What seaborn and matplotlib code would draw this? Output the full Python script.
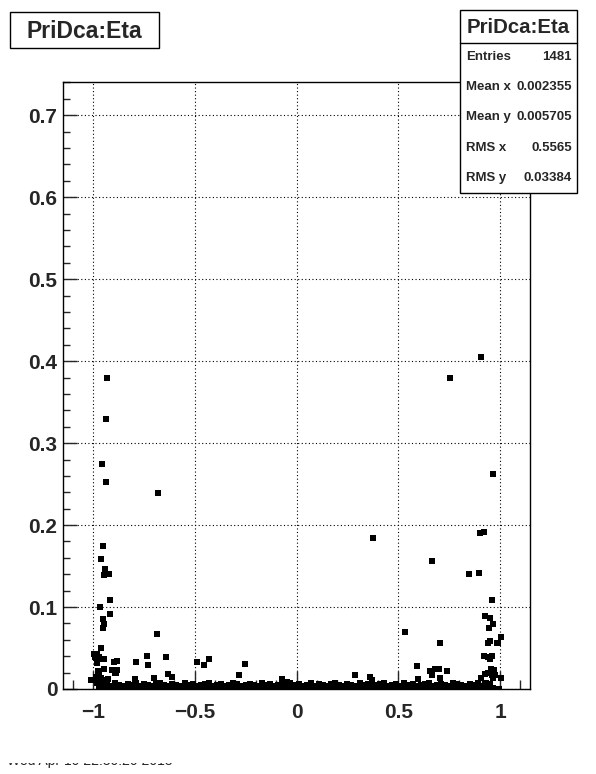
import numpy as np
import pandas as pd
import matplotlib
matplotlib.use("Agg")
import matplotlib.pyplot as plt
import seaborn as sns
from matplotlib.patches import Rectangle
from matplotlib.ticker import MultipleLocator
from matplotlib.transforms import Bbox

# ==========================================================
# Data
# ==========================================================

# isolated points above the dense band
out_x = [-0.929, -0.936, -0.956, -0.936, -0.681, -0.951, -0.961, -0.941, -0.946, -0.921,
         -0.916, -0.966, -0.916, -0.951, -0.946, -0.951, -0.686, -0.961, -0.995, -0.980,
         -0.990, -0.971, -0.946, -0.951, -0.735, -0.641, -0.980, -0.897, -0.882, -0.789,
         -0.730, -0.946, -0.907, -0.882, -0.975, -0.971, -0.887, -0.892, -0.631, -0.612,
         -0.985, -0.961, -0.926, -0.936, -1.010, -0.794, -0.700, -0.971, -0.966, -0.980,
         -0.961, -0.971, -0.951, -0.490, -0.455, -0.430, -0.253, -0.281, -0.071, -0.047,
         0.288, 0.361, 0.371, 0.374,
         0.907, 0.754, 0.966, 0.902, 0.921, 0.666, 0.848, 0.897, 0.961, 0.926,
         0.951, 0.946, 0.966, 0.533, 1.005, 0.951, 0.941, 0.985, 0.990, 0.705,
         0.921, 0.941, 0.951, 0.961, 0.592, 0.656, 0.681, 0.700, 0.666, 0.740,
         0.956, 0.971, 0.941, 0.926, 0.961, 0.976, 1.005, 0.907, 0.705, 0.597,
         0.966, 0.926, 0.931, 0.951, 0.995, 0.966]
out_y = [0.379, 0.329, 0.274, 0.252, 0.239, 0.175, 0.159, 0.146, 0.139, 0.140,
         0.108, 0.100, 0.091, 0.085, 0.079, 0.074, 0.067, 0.050, 0.043, 0.043,
         0.039, 0.039, 0.037, 0.036, 0.040, 0.039, 0.032, 0.033, 0.034, 0.033,
         0.029, 0.025, 0.023, 0.023, 0.022, 0.019, 0.020, 0.019, 0.018, 0.015,
         0.015, 0.013, 0.012, 0.011, 0.011, 0.012, 0.013, 0.012, 0.008, 0.007,
         0.006, 0.003, 0.000, 0.033, 0.029, 0.036, 0.030, 0.017, 0.012, 0.009,
         0.017, 0.015, 0.011, 0.184,
         0.405, 0.380, 0.262, 0.190, 0.191, 0.156, 0.140, 0.141, 0.108, 0.089,
         0.087, 0.074, 0.079, 0.070, 0.064, 0.059, 0.056, 0.056, 0.056, 0.056,
         0.040, 0.039, 0.037, 0.040, 0.028, 0.022, 0.025, 0.025, 0.017, 0.022,
         0.025, 0.023, 0.020, 0.018, 0.017, 0.017, 0.013, 0.014, 0.014, 0.012,
         0.013, 0.007, 0.007, 0.003, 0.000, 0.001]

# dense band near zero: a lower row and an upper row, offset in x
band_x = [-0.96, -0.94, -0.92, -0.90, -0.88, -0.86, -0.84, -0.82, -0.80, -0.78,
          -0.76, -0.74, -0.72, -0.70, -0.68, -0.66, -0.64, -0.62, -0.60, -0.58,
          -0.56, -0.54, -0.52, -0.50, -0.48, -0.46, -0.44, -0.42, -0.40, -0.38,
          -0.36, -0.34, -0.32, -0.30, -0.28, -0.26, -0.24, -0.22, -0.20, -0.18,
          -0.16, -0.14, -0.12, -0.10, -0.08, -0.06, -0.04, -0.02, 0.00, 0.02,
          0.04, 0.06, 0.08, 0.10, 0.12, 0.14, 0.16, 0.18, 0.20, 0.22,
          0.24, 0.26, 0.28, 0.30, 0.32, 0.34, 0.36, 0.38, 0.40, 0.42,
          0.44, 0.46, 0.48, 0.50, 0.52, 0.54, 0.56, 0.58, 0.60, 0.62,
          0.64, 0.66, 0.68, 0.70, 0.72, 0.74, 0.76, 0.78, 0.80, 0.82,
          0.84, 0.86, 0.88, 0.90, 0.92, 0.94, 0.96]
band_x2 = [-0.95, -0.93, -0.91, -0.89, -0.87, -0.85, -0.83, -0.81, -0.79, -0.77,
           -0.75, -0.73, -0.71, -0.69, -0.67, -0.65, -0.63, -0.61, -0.59, -0.57,
           -0.55, -0.53, -0.51, -0.49, -0.47, -0.45, -0.43, -0.41, -0.39, -0.37,
           -0.35, -0.33, -0.31, -0.29, -0.27, -0.25, -0.23, -0.21, -0.19, -0.17,
           -0.15, -0.13, -0.11, -0.09, -0.07, -0.05, -0.03, -0.01, 0.01, 0.03,
           0.05, 0.07, 0.09, 0.11, 0.13, 0.15, 0.17, 0.19, 0.21, 0.23,
           0.25, 0.27, 0.29, 0.31, 0.33, 0.35, 0.37, 0.39, 0.41, 0.43,
           0.45, 0.47, 0.49, 0.51, 0.53, 0.55, 0.57, 0.59, 0.61, 0.63,
           0.65, 0.67, 0.69, 0.71, 0.73, 0.75, 0.77, 0.79, 0.81, 0.83,
           0.85, 0.87, 0.89, 0.91, 0.93, 0.95]
band_y_lo = [0.002, 0.001, 0.003, 0.002, 0.001, 0.002, 0.003, 0.001, 0.002, 0.002,
             0.001, 0.003, 0.002, 0.001, 0.002, 0.003, 0.002, 0.001, 0.002, 0.003,
             0.001, 0.002, 0.002, 0.003, 0.001, 0.002, 0.001, 0.003, 0.002, 0.002,
             0.003, 0.001, 0.002, 0.002, 0.001, 0.003, 0.002, 0.001, 0.002, 0.003,
             0.002, 0.001, 0.003, 0.002, 0.002, 0.001, 0.002, 0.003, 0.001, 0.002,
             0.002, 0.003, 0.001, 0.002, 0.001, 0.003, 0.002, 0.002, 0.001, 0.002,
             0.003, 0.002, 0.001, 0.002, 0.003, 0.001, 0.002, 0.002, 0.003, 0.001,
             0.002, 0.001, 0.003, 0.002, 0.002, 0.001, 0.002, 0.003, 0.002, 0.001,
             0.002, 0.003, 0.001, 0.002, 0.002, 0.003, 0.001, 0.002, 0.001, 0.002,
             0.003, 0.002, 0.001, 0.002, 0.002, 0.003, 0.001]
band_y_hi = [0.005, 0.006, 0.004, 0.007, 0.005, 0.004, 0.006, 0.005, 0.007, 0.004,
             0.006, 0.005, 0.004, 0.006, 0.007, 0.005, 0.004, 0.006, 0.005, 0.004,
             0.007, 0.005, 0.006, 0.004, 0.005, 0.006, 0.007, 0.004, 0.005, 0.006,
             0.004, 0.005, 0.007, 0.006, 0.004, 0.005, 0.006, 0.005, 0.004, 0.007,
             0.005, 0.006, 0.004, 0.005, 0.006, 0.004, 0.007, 0.005, 0.006, 0.004,
             0.005, 0.007, 0.004, 0.006, 0.005, 0.004, 0.006, 0.007, 0.005, 0.004,
             0.006, 0.005, 0.004, 0.007, 0.005, 0.006, 0.004, 0.005, 0.006, 0.007,
             0.004, 0.005, 0.006, 0.004, 0.007, 0.005, 0.006, 0.004, 0.005, 0.006,
             0.007, 0.004, 0.005, 0.006, 0.005, 0.004, 0.007, 0.006, 0.005, 0.004,
             0.006, 0.005, 0.007, 0.004, 0.005, 0.006]

stat_names = ["Entries", "Mean x", "Mean y", "RMS x", "RMS y"]
stat_values = ["1481", "0.002355", "0.005705", "0.5565", "0.03384"]
hist_title = "PriDca:Eta"
date_text = "Wed Apr 10 22:30:20 2013"

df = pd.DataFrame({
    "x": out_x + band_x + band_x2,
    "y": out_y + band_y_lo + band_y_hi,
})

# ==========================================================
# Plot
# ==========================================================

sns.set_style("white")
plt.rcParams['font.family'] = ['Liberation Sans', 'DejaVu Sans']

W, H = 596, 774
fig = plt.figure(figsize=(W / 100, H / 100), dpi=100)
ax = fig.add_axes([63 / W, 1 - 689 / H, (530 - 63) / W, (689 - 82) / H])

sns.scatterplot(data=df, x="x", y="y", ax=ax, marker="s", s=15,
                color="black", linewidth=0, legend=False)

ax.set_xlim(-1.147, 1.147)
ax.set_ylim(0, 0.7406)
ax.set_xlabel("")
ax.set_ylabel("")

ax.xaxis.set_minor_locator(MultipleLocator(0.1))
ax.yaxis.set_minor_locator(MultipleLocator(0.02))
ax.set_xticks([-1, -0.5, 0, 0.5, 1])
ax.set_xticklabels(["\u22121", "\u22120.5", "0", "0.5", "1"])
ax.set_yticks([0, 0.1, 0.2, 0.3, 0.4, 0.5, 0.6, 0.7])
ax.set_yticklabels(["0", "0.1", "0.2", "0.3", "0.4", "0.5", "0.6", "0.7"])

ax.tick_params(axis="x", which="major", direction="in", length=13, width=1,
               labelsize=15, pad=10, top=False, bottom=True)
ax.tick_params(axis="x", which="minor", direction="in", length=6.5, width=1,
               top=False, bottom=True)
ax.tick_params(axis="y", which="major", direction="in", length=10, width=1,
               labelsize=15, pad=4, left=True, right=False)
ax.tick_params(axis="y", which="minor", direction="in", length=5, width=1,
               left=True, right=False)
for lab in ax.get_xticklabels() + ax.get_yticklabels():
    lab.set_fontweight("bold")

ax.grid(True, which="major", color="black", linewidth=0.8,
        linestyle=(0, (1, 2.2)))
ax.set_axisbelow(True)
for sp in ax.spines.values():
    sp.set_visible(True)
    sp.set_color("black")
    sp.set_linewidth(1)

# title box (top left)
def px_rect(x0, y0, x1, y1):
    return Rectangle((x0 / W, 1 - y1 / H), (x1 - x0) / W, (y1 - y0) / H,
                     transform=fig.transFigure, facecolor="white",
                     edgecolor="black", linewidth=1, zorder=5)

fig.patches.append(px_rect(10, 12, 159, 48))
fig.text(84.5 / W, 1 - 31 / H, hist_title, ha="center", va="center",
         fontsize=16.5, fontweight="bold", zorder=6)

# stats box (top right)
fig.patches.append(px_rect(460, 10, 577, 193))
fig.add_artist(plt.Line2D([460 / W, 577 / W], [1 - 43 / H, 1 - 43 / H],
                          transform=fig.transFigure, color="black",
                          linewidth=1, zorder=6))
fig.text(518.5 / W, 1 - 27.5 / H, hist_title, ha="center", va="center",
         fontsize=14.7, fontweight="bold", zorder=6)
row_y = [57, 87, 117, 148, 178]
for name, val, ry in zip(stat_names, stat_values, row_y):
    fig.text(466 / W, 1 - ry / H, name, ha="left", va="center",
             fontsize=9.5, fontweight="bold", zorder=6)
    fig.text(572 / W, 1 - ry / H, val, ha="right", va="center",
             fontsize=9.5, fontweight="bold", zorder=6)

# date stamp, mostly cut away (only the bottom of the glyphs shows)
stamp = fig.text(7 / W, 1 - 765 / H, date_text, ha="left", va="baseline",
                 fontsize=10)
stamp.set_clip_box(Bbox([[0, 0], [W, H - 762.5]]))
stamp.set_clip_on(True)

fig.savefig("out.png", dpi=100, facecolor="white")
